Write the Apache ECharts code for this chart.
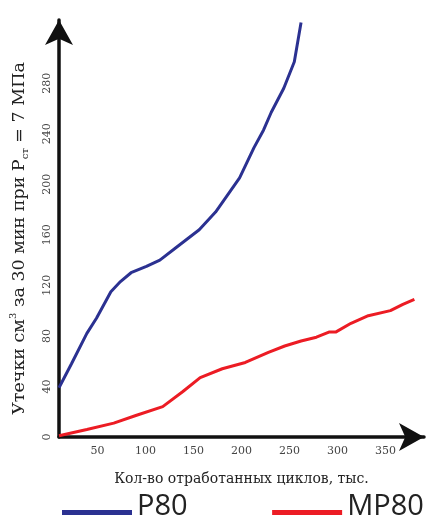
<!DOCTYPE html>
<html>
<head>
<meta charset="utf-8">
<script src="https://cdn.jsdelivr.net/npm/echarts@6/dist/echarts.min.js"></script>
<style>
html,body{margin:0;padding:0;background:#fff;}
#chart{width:437px;height:516px;}
</style>
</head>
<body>
<div id="chart"></div>
<script>
// P80 (blue) — cycles, thousand / leakage cm3
var p80X = [10, 23, 39, 49, 64, 74, 85, 101, 115, 132, 156, 173, 198, 213, 223, 231, 244, 255, 262];
var p80Y = [39, 58, 82, 94, 115, 123, 130, 135, 140, 150, 164, 178, 205, 229, 243, 257, 276, 297, 328];
// MP80 (red)
var mp80X = [10, 39, 67, 90, 118, 139, 157, 180, 204, 228, 245, 262, 278, 291, 298, 314, 332, 355, 368, 380];
var mp80Y = [1, 6, 11, 17, 24, 36, 47, 54, 59, 67, 72, 76, 79, 83, 83, 90, 96, 100, 105, 109];
// tick labels
var xTicks = [50, 100, 150, 200, 250, 300, 350];
var yTicks = [0, 40, 80, 120, 160, 200, 240, 280];
var seriesNames = ['P80', 'MP80'];

function zip(xs, ys) { return xs.map(function (x, i) { return [x, ys[i]]; }); }

var serif = 'DejaVu Serif';
var chart = echarts.init(document.getElementById('chart'), null, {renderer: 'canvas'});
chart.setOption({
  backgroundColor: '#ffffff',
  animation: false,
  grid: {left: 55, right: 13, top: 20, bottom: 79, containLabel: false},
  legend: {
    data: seriesNames,
    left: 62,
    top: 492.5,
    padding: 0,
    width: 375,
    itemWidth: 70,
    itemHeight: 5,
    itemGap: 84,
    icon: 'rect',
    formatter: '{t|{name}}{s| }',
    textStyle: {
      fontFamily: 'Open Sans', fontSize: 30, color: '#222',
      rich: {
        t: {fontFamily: 'Open Sans', fontSize: 29, color: '#222', lineHeight: 30, verticalAlign: 'top'},
        s: {fontSize: 2, lineHeight: 40}
      }
    }
  },
  xAxis: {
    type: 'value',
    min: 10,
    max: 390,
    name: 'Кол-во отработанных циклов, тыс.',
    nameLocation: 'middle',
    nameGap: 35,
    nameTextStyle: {fontFamily: serif, fontSize: 14, color: '#222'},
    axisLine: {show: true, symbol: ['none', 'arrow'], symbolSize: [21, 25], lineStyle: {color: '#111', width: 3.5}},
    axisTick: {show: false},
    splitLine: {show: false},
    axisLabel: {customValues: xTicks, fontFamily: serif, fontSize: 11, color: '#444', margin: 9}
  },
  yAxis: {
    type: 'value',
    min: 0,
    max: 330,
    name: '{a|Утечки см}{sup|3}{a| за 30 мин при P}{sub|ст}{a| = 7 МПа}',
    nameLocation: 'middle',
    nameRotate: 90,
    nameGap: 29,
    nameTextStyle: {
      padding: [0, 20, 0, 0],
      rich: {
        a: {fontFamily: serif, fontSize: 17.5, color: '#222', lineHeight: 22},
        sup: {fontFamily: serif, fontSize: 10, color: '#222', verticalAlign: 'top', lineHeight: 22},
        sub: {fontFamily: serif, fontSize: 10, color: '#222', verticalAlign: 'bottom', lineHeight: 22}
      }
    },
    axisLine: {show: true, symbol: ['none', 'arrow'], symbolSize: [21, 25], lineStyle: {color: '#111', width: 3.5}},
    axisTick: {show: false},
    splitLine: {show: false},
    axisLabel: {customValues: yTicks, rotate: 90, fontFamily: serif, fontSize: 11, color: '#444', margin: 6}
  },
  series: [
    {name: seriesNames[0], type: 'line', data: zip(p80X, p80Y), showSymbol: false, symbol: 'none',
     lineStyle: {color: '#2b3191', width: 3}, itemStyle: {color: '#2b3191'}},
    {name: seriesNames[1], type: 'line', data: zip(mp80X, mp80Y), showSymbol: false, symbol: 'none',
     lineStyle: {color: '#ec1c24', width: 3}, itemStyle: {color: '#ec1c24'}}
  ]
});
</script>
</body>
</html>
